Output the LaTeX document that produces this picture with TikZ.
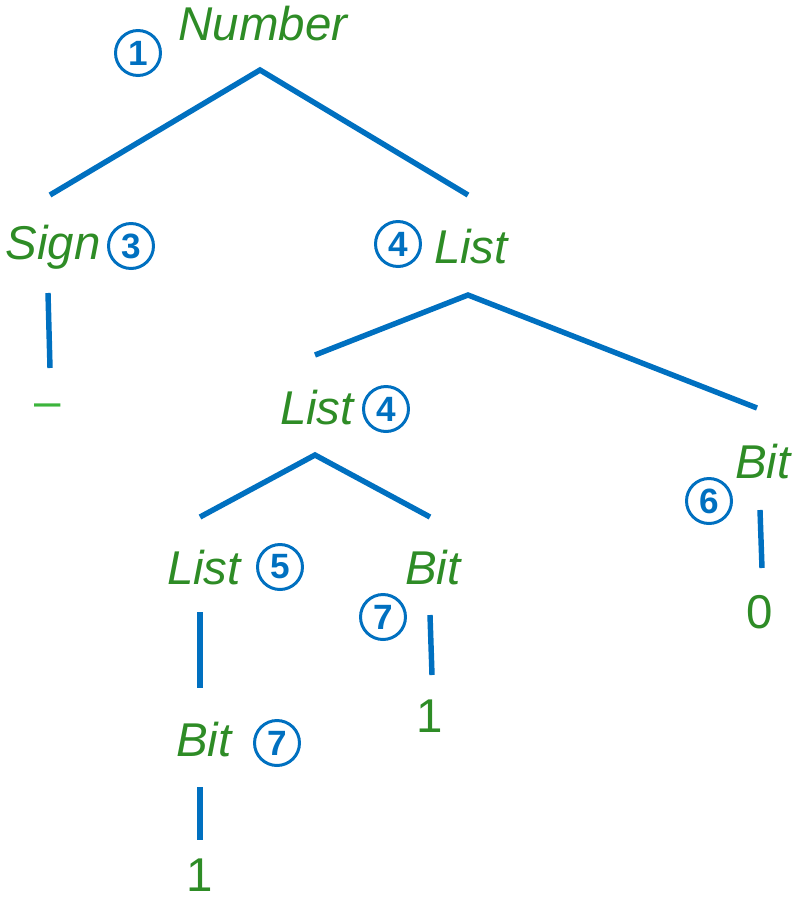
\documentclass[tikz,border=0pt]{standalone}
\usepackage{fontspec}
\setmainfont{Liberation Sans}
\definecolor{treeblue}{RGB}{0,112,192}
\definecolor{treegreen}{RGB}{46,140,38}
\definecolor{signgreen}{RGB}{60,180,60}
\begin{document}
\begin{tikzpicture}[x=0.02cm,y=-0.02cm,
  sym/.style={text=treegreen,font=\fontsize{27}{30}\selectfont\itshape,inner sep=0pt},
  leaf/.style={text=treegreen,font=\fontsize{27}{30}\selectfont,inner sep=0pt},
  step num/.style={circle,draw=treeblue,line width=1.7pt,minimum size=0.9cm,inner sep=0pt,
    text=treeblue,font=\fontsize{20}{22}\selectfont\bfseries},
  edge/.style={treeblue,line width=3.1pt}]
\useasboundingbox (0,0) rectangle (794,900);

% symbols and their rule numbers
\node[sym] (number) at (263,24) {Number};  \node[step num] (n1) at (138,53) {1};
\node[sym] (sign) at (53,247) {Sign};      \node[step num] (n3) at (131,246) {3};
\node[sym] (list1) at (471,247) {List};    \node[step num] (n4a) at (398,244) {4};
\node[sym] (list2) at (317,408) {List};    \node[step num] (n4b) at (386,409) {4};
\node[sym] (bit1) at (763,462) {Bit};      \node[step num] (n6) at (709,501) {6};
\node[sym] (list3) at (204,568) {List};    \node[step num] (n5) at (280,567) {5};
\node[sym] (bit2) at (433,568) {Bit};      \node[step num] (n7a) at (383,617) {7};
\node[sym] (bit3) at (204,740) {Bit};      \node[step num] (n7b) at (277,743) {7};
\node[leaf,text=signgreen] (minus) at (48,411) {–};
\node[leaf] (zero) at (760,612) {0};
\node[leaf] (one1) at (430,716) {1};
\node[leaf] (one2) at (200,875) {1};

% branch ends
\coordinate (number-b) at (260,70);
\coordinate (sign-t) at (50,195);  \coordinate (list1-t) at (468,195);
\coordinate (sign-b) at (48,293);  \coordinate (minus-t) at (50,368);
\coordinate (list1-b) at (468,295);
\coordinate (list2-t) at (315,355); \coordinate (bit1-t) at (757,408);
\coordinate (list2-b) at (315,455);
\coordinate (list3-t) at (200,517); \coordinate (bit2-t) at (430,517);
\coordinate (bit1-b) at (760,510); \coordinate (zero-t) at (762,568);
\coordinate (list3-b) at (200,612); \coordinate (bit3-t) at (200,688);
\coordinate (bit2-b) at (430,615); \coordinate (one1-t) at (432,675);
\coordinate (bit3-b) at (200,787); \coordinate (one2-t) at (200,840);

\draw[edge] (sign-t) -- (number-b) -- (list1-t);
\draw[edge] (sign-b) -- (minus-t);
\draw[edge] (list2-t) -- (list1-b) -- (bit1-t);
\draw[edge] (list3-t) -- (list2-b) -- (bit2-t);
\draw[edge] (bit1-b) -- (zero-t);
\draw[edge] (list3-b) -- (bit3-t);
\draw[edge] (bit2-b) -- (one1-t);
\draw[edge] (bit3-b) -- (one2-t);
\end{tikzpicture}
\end{document}
